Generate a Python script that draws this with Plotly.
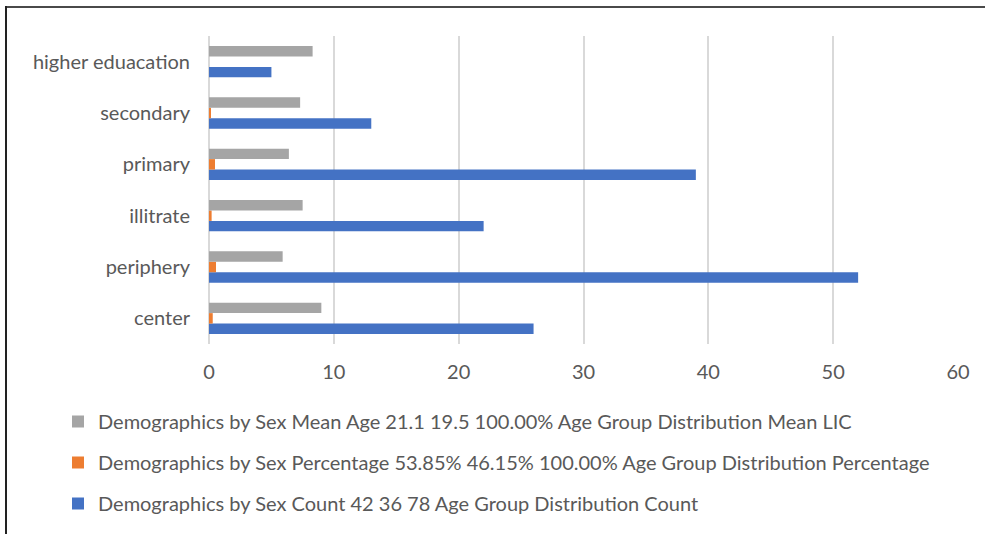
import plotly.graph_objects as go

# Categories (bottom to top on the axis)
categories = ["center", "periphery", "illitrate", "primary", "secondary", "higher eduacation"]

# Series values
count_values = [26, 52, 22, 39, 13, 5]
percentage_values = [0.3, 0.56, 0.21, 0.48, 0.1, 0]
mean_values = [9.0, 5.9, 7.5, 6.4, 7.3, 8.3]

series_names = [
    "Demographics by Sex Count 42 36 78 Age Group Distribution Count",
    "Demographics by Sex Percentage 53.85% 46.15% 100.00% Age Group Distribution Percentage",
    "Demographics by Sex Mean Age 21.1 19.5 100.00% Age Group Distribution Mean LIC",
]
legend_ranks = [3, 2, 1]
x_ticks = [0, 10, 20, 30, 40, 50, 60]

colors = ["#4472C4", "#ED7D31", "#A5A5A5"]
FONT = "Lato"
FONT_SIZE = 20
TEXT_COLOR = "#595959"

# Plot area in pixels
W, H = 985, 534
L, R, T, B = 209, 27, 36, 190
PW, PH = W - L - R, H - T - B


def px_x(p):
    return (p - L) / PW


def px_y(p):
    return (H - B - p) / PH


fig = go.Figure()
for name, vals, col, rank in zip(series_names,
                                 [count_values, percentage_values, mean_values],
                                 colors, legend_ranks):
    fig.add_trace(go.Bar(
        y=categories, x=vals, name=name, orientation="h",
        marker=dict(color=col, line=dict(width=0)),
        legendgroup=name, legendrank=rank,
    ))

fig.update_layout(
    width=W, height=H,
    margin=dict(l=L, r=R, t=T, b=B, pad=0, autoexpand=False),
    paper_bgcolor="white", plot_bgcolor="white",
    barmode="group", bargap=0.39, bargroupgap=0,
    font=dict(family=FONT, size=FONT_SIZE, color=TEXT_COLOR),
    xaxis=dict(
        range=[0, 60], tickvals=x_ticks, showgrid=True,
        gridcolor="#D9D9D9", gridwidth=1.5,
        zeroline=True, zerolinecolor="#D9D9D9", zerolinewidth=1.5,
        showline=False, ticks="", ticklabelstandoff=14,
        tickfont=dict(family=FONT, size=FONT_SIZE, color=TEXT_COLOR),
        fixedrange=True,
    ),
    yaxis=dict(
        type="category", categoryorder="array", categoryarray=categories,
        showgrid=False, zeroline=False, showline=False, ticks="",
        ticklabelstandoff=18,
        tickfont=dict(family=FONT, size=FONT_SIZE, color=TEXT_COLOR),
        fixedrange=True,
    ),
    showlegend=True,
    legend=dict(
        orientation="v", traceorder="grouped", tracegroupgap=12,
        x=px_x(58), xanchor="left", y=px_y(402), yanchor="top",
        font=dict(family=FONT, size=FONT_SIZE, color=TEXT_COLOR),
        bgcolor="rgba(0,0,0,0)", itemclick=False, itemdoubleclick=False,
    ),
    shapes=[
        dict(type="line", xref="paper", yref="paper",
             x0=px_x(5), x1=px_x(W + 5), y0=px_y(7), y1=px_y(7),
             line=dict(color="#4a4a4a", width=2)),
        dict(type="line", xref="paper", yref="paper",
             x0=px_x(6), x1=px_x(6), y0=px_y(6), y1=px_y(H + 5),
             line=dict(color="#222222", width=2)),
    ],
)

fig.write_html("out.html", config={"displayModeBar": False})
